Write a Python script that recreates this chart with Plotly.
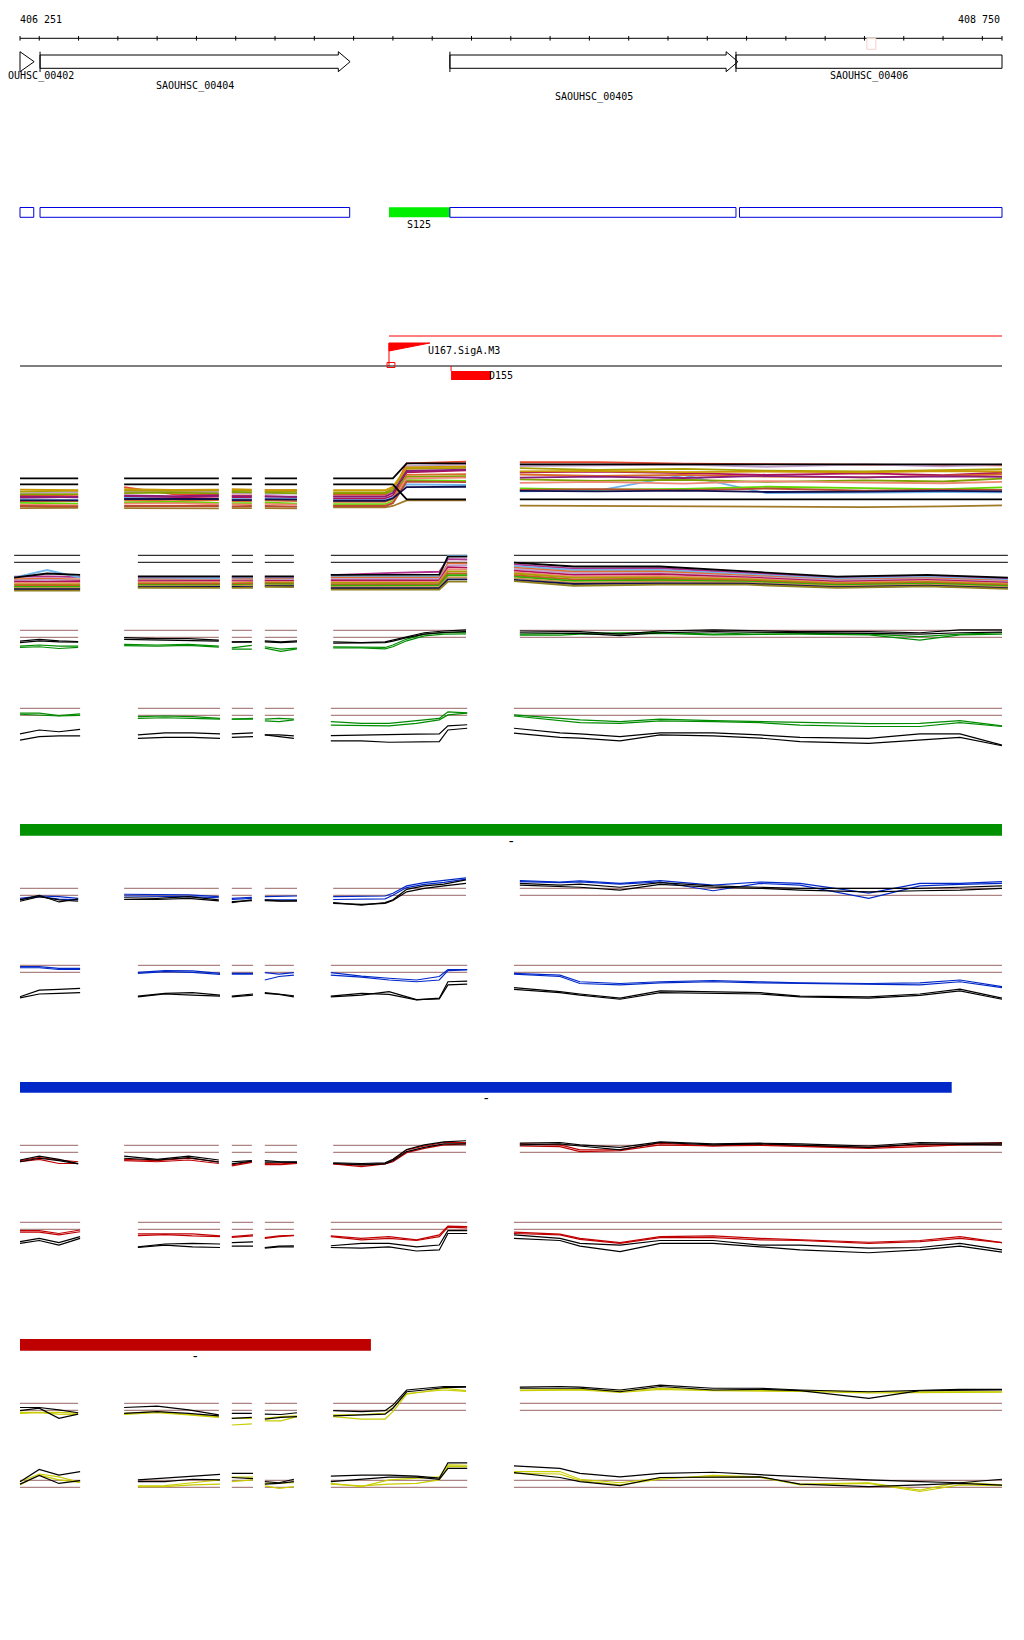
import plotly.graph_objects as go

W, H = 1024, 1640
PAGE_MARGIN = 8  # browser default body margin
FIG_W, FIG_H = W - PAGE_MARGIN, H - PAGE_MARGIN
VIEW_START, VIEW_END = 406251, 408750
PX_START, PX_END = 20, 1002
BP_PER_PX = (VIEW_END - VIEW_START) / (PX_END - PX_START)
X_RANGE = [VIEW_START - (PX_START - PAGE_MARGIN) * BP_PER_PX,
           VIEW_END + (FIG_W - (PX_END - PAGE_MARGIN)) * BP_PER_PX]

# ---------------- data ----------------
RULER_TICKS = [406251] + list(range(406300, 408701, 100)) + [408750]
RULER_LABELS = ["406 251", "408 750"]

GENE_NAMES = ["SAOUHSC_00402", "SAOUHSC_00404", "SAOUHSC_00405", "SAOUHSC_00406"]
GENE_STARTS = [406251, 406302, 407345, 408073]
GENE_ENDS = [406287, 407091, 408078, 408750]
GENE_LABEL_ROW = [0, 1, 2, 0]

FAINT_BOX = [408406, 408429]

REGION_STARTS = [406251, 406302, 407345, 408082]
REGION_ENDS = [406286, 407090, 408073, 408750]
HIGHLIGHT = [407190, 407345]
HIGHLIGHT_LABEL = "S125"

PROMOTER_POS = 407190
PROMOTER_LABEL = "U167.SigA.M3"
PROMOTER_LINE_END = 408750
TERM_START, TERM_END = 407348, 407450
TERM_LABEL = "D155"

BAR_STARTS = [406251, 406251, 406251]
BAR_ENDS = [408750, 408622, 407144]
BAR_LABELS = ["-", "-", "-"]

REF_LEVELS = [1.0, -1.0]

GRID_N = [[406251, 406300, 406350, 406399], [406516, 406600, 406680, 406757], [406790, 406841],
          [406874, 406915, 406956], [407048, 407120, 407180, 407200, 407235, 407280, 407330, 407386],
          [407523, 407625, 407676, 407778, 407880, 408015, 408134, 408236, 408411, 408541, 408643, 408750]]
GRID_W = [[406251, 406300, 406350, 406404], [406551, 406620, 406690, 406760], [406790, 406844],
          [406874, 406910, 406948], [407042, 407120, 407190, 407260, 407318, 407340, 407389],
          [407508, 407625, 407676, 407778, 407880, 408015, 408134, 408236, 408411, 408541, 408643, 408750]]
GRID_A = [[406251, 406399], [406516, 406640, 406757], [406790, 406841], [406874, 406956],
          [407048, 407180, 407200, 407235, 407386],
          [407523, 407720, 407940, 408150, 408400, 408600, 408750]]
GRID_B = [[406236, 406320, 406404], [406551, 406660, 406760], [406790, 406844], [406874, 406948],
          [407042, 407200, 407318, 407340, 407389],
          [407508, 407660, 407880, 408100, 408330, 408560, 408765]]

A_COLORS = ['#e8452c', '#c0a0cc', '#a8a000', '#b0105a', '#70b4ec', '#d86c28', '#80a000', '#60d800',
            '#a07828', '#f08878', '#8c1a78', '#c89800', '#b84c30', '#101050', '#000000', '#000000']
A_VALUES = [
    [[-3.0, -2.8], [-0.6, -2.6, -2.8], [-3.0, -3.0], [-1.5, -1.6], [-2.8, -2.8, -2.0, 6.2, 6.7], [6.5, 6.5, 6.1, 6.0, 5.8, 5.7, 5.6]],
    [[-2.4, -2.0], [-2.0, -2.1, -2.0], [-2.4, -2.4], [-2.6, -2.4], [-3.3, -3.3, -2.0, 5.4, 5.9], [5.4, 5.6, 5.8, 5.2, 5.9, 5.3, 5.8]],
    [[-1.9, -1.6], [-1.6, -1.7, -1.5], [-1.6, -1.7], [-1.9, -1.9], [-2.1, -2.1, -1.0, 4.6, 4.9], [4.8, 4.3, 4.6, 4.1, 3.9, 4.2, 4.5]],
    [[-3.7, -3.4], [-3.4, -3.5, -3.3], [-3.6, -3.6], [-3.2, -3.5], [-3.9, -3.9, -3.0, 3.6, 4.2], [3.6, 3.8, 3.4, 2.9, 3.3, 2.8, 3.5]],
    [[-4.1, -4.3], [-3.7, -3.9, -4.2], [-4.0, -4.1], [-3.8, -3.9], [-4.3, -4.3, -3.5, 0.2, 0.0], [-1.8, -1.6, 2.8, -2.3, -2.2, -2.0, -2.1]],
    [[-4.7, -4.6], [-4.4, -4.6, -4.3], [-4.6, -4.7], [-4.4, -4.6], [-4.8, -4.8, -4.0, 2.9, 3.1], [3.0, 2.6, 2.9, 2.4, 2.2, 2.6, 3.0]],
    [[-2.7, -2.6], [-2.3, -2.2, -2.4], [-2.0, -2.1], [-2.2, -2.4], [-2.4, -2.4, -1.6, 2.3, 2.5], [1.6, 1.2, 1.5, 0.9, 1.3, 1.0, 1.8]],
    [[-5.1, -5.3], [-5.0, -4.8, -5.1], [-5.2, -5.2], [-5.0, -5.3], [-5.5, -5.5, -4.6, 1.4, 1.2], [-1.0, -1.3, -1.1, -0.5, -0.9, -1.2, -0.7]],
    [[-6.6, -6.5], [-6.6, -6.6, -6.7], [-6.6, -6.6], [-6.6, -6.7], [-6.4, -6.4, -6.0, -4.4, -4.4], [-5.9, -6.0, -6.0, -6.3, -6.3, -6.1, -5.8]],
    [[-5.6, -5.8], [-5.3, -5.2, -5.5], [-5.5, -5.6], [-5.4, -5.6], [-5.9, -5.9, -5.0, 1.9, 2.1], [0.6, 0.9, 0.4, 1.1, 0.7, 0.5, 0.9]],
    [[-3.3, -3.5], [-3.0, -3.2, -3.0], [-3.2, -3.2], [-3.3, -3.3], [-3.3, -3.3, -2.3, 4.0, 4.4], [2.1, 2.4, 2.0, 2.6, 2.2, 2.5, 2.3]],
    [[-1.3, -1.5], [-1.2, -1.4, -1.3], [-1.2, -1.3], [-1.5, -1.4], [-1.5, -1.5, -0.5, 5.0, 5.3], [3.9, 4.0, 3.7, 3.8, 3.6, 4.0, 3.8]],
    [[-6.0, -6.1], [-6.0, -6.1, -6.0], [-6.1, -6.0], [-6.0, -6.2], [-6.0, -6.0, -5.2, 1.0, 0.8], [-1.4, -1.2, -1.5, -1.0, -1.6, -1.3, -1.4]],
    [[-4.4, -4.4], [-4.0, -4.1, -4.0], [-4.3, -4.3], [-4.1, -4.2], [-4.5, -4.5, -3.8, -0.6, -0.5], [-1.7, -1.8, -1.6, -2.0, -1.9, -1.7, -1.8]],
    [[1.9, 1.9], [1.9, 1.9, 1.9], [1.9, 1.9], [1.9, 1.9], [1.9, 1.9, 1.9, 6.2, 6.2], [5.9, 5.9, 5.9, 5.9, 5.9, 5.9, 5.9]],
    [[0.2, 0.2], [0.2, 0.2, 0.2], [0.2, 0.2], [0.2, 0.2], [0.2, 0.2, 0.2, -4.1, -4.1], [-4.1, -4.1, -4.1, -4.1, -4.1, -4.1, -4.1]],
]

B_COLORS = ['#b03090', '#70b4ec', '#e07030', '#c0a0cc', '#b0105a', '#f08878', '#a8a000', '#c85a28',
            '#30b000', '#c89850', '#101050', '#908020', '#000000']
B_VALUES = [
    [[-5.1, -5.0, -5.2], [-5.3, -5.3, -5.4], [-5.3, -5.3], [-5.3, -5.3], [-4.7, -4.0, -3.7, -0.1, -0.2], [-1.6, -2.8, -2.7, -4.1, -5.4, -4.9, -5.7]],
    [[-5.4, -3.2, -5.4], [-5.6, -5.6, -5.5], [-5.6, -5.5], [-5.6, -5.6], [-5.0, -5.0, -5.0, 0.8, 0.8], [-2.1, -3.2, -3.2, -4.4, -5.7, -5.2, -6.0]],
    [[-5.8, -5.7, -5.9], [-5.9, -5.9, -6.0], [-5.9, -5.8], [-5.8, -5.8], [-5.4, -5.4, -5.3, -1.3, -1.3], [-2.5, -3.7, -3.6, -4.7, -6.0, -5.5, -6.3]],
    [[-6.2, -6.0, -6.2], [-6.2, -6.1, -6.2], [-6.1, -6.2], [-6.1, -6.0], [-5.8, -5.8, -5.7, -1.9, -1.8], [-2.9, -4.1, -4.0, -5.0, -6.2, -5.8, -6.5]],
    [[-6.5, -6.6, -6.4], [-6.4, -6.4, -6.3], [-6.4, -6.4], [-6.3, -6.3], [-6.2, -6.2, -6.1, -2.4, -2.5], [-3.4, -4.6, -4.4, -5.3, -6.5, -6.0, -6.8]],
    [[-6.9, -6.8, -6.9], [-6.7, -6.6, -6.7], [-6.6, -6.7], [-6.6, -6.6], [-6.6, -6.6, -6.5, -3.0, -3.0], [-3.8, -5.0, -4.9, -5.6, -6.8, -6.3, -7.1]],
    [[-7.3, -7.2, -7.3], [-7.0, -7.0, -7.0], [-7.0, -6.9], [-6.8, -6.8], [-6.9, -6.9, -6.8, -3.6, -3.6], [-4.2, -5.4, -5.3, -5.9, -7.0, -6.6, -7.3]],
    [[-7.6, -7.5, -7.7], [-7.2, -7.3, -7.2], [-7.2, -7.2], [-7.0, -7.1], [-7.3, -7.3, -7.2, -4.2, -4.2], [-4.7, -5.9, -5.7, -6.2, -7.3, -6.8, -7.6]],
    [[-8.0, -7.9, -8.0], [-7.5, -7.5, -7.6], [-7.5, -7.5], [-7.3, -7.3], [-7.7, -7.7, -7.6, -4.7, -4.7], [-5.1, -6.3, -6.1, -6.5, -7.5, -7.1, -7.8]],
    [[-8.4, -8.3, -8.4], [-7.8, -7.8, -7.8], [-7.8, -7.7], [-7.5, -7.6], [-8.1, -8.1, -8.0, -5.3, -5.3], [-5.5, -6.8, -6.5, -6.8, -7.8, -7.4, -8.1]],
    [[-8.7, -8.8, -8.7], [-8.1, -8.1, -8.0], [-8.0, -8.1], [-7.8, -7.8], [-8.4, -8.4, -8.4, -5.9, -5.9], [-6.0, -7.2, -7.0, -7.1, -8.1, -7.7, -8.4]],
    [[-9.1, -9.0, -9.1], [-8.3, -8.4, -8.3], [-8.3, -8.3], [-8.0, -8.1], [-8.8, -8.8, -8.8, -6.5, -6.5], [-6.4, -7.7, -7.4, -7.4, -8.3, -7.9, -8.6]],
    [[-5.4, -4.2, -4.6], [-5.0, -5.0, -5.0], [-5.0, -5.0], [-5.0, -5.0], [-4.6, -4.6, -4.5, 0.6, 0.6], [-1.1, -2.2, -2.2, -3.7, -5.1, -4.6, -5.4]],
]

C_BLACK1 = [[-2.1, -1.6, -2.0, -2.2], [-1.1, -1.4, -1.4, -1.8], [-2.3, -2.2], [-2.0, -2.3, -2.0], [-2.3, -2.5, -2.3, -1.8, -0.8, 0.3, 0.8, 1.1], [0.8, 0.6, 0.6, -0.1, 0.8, 1.1, 0.9, 0.6, 0.6, 0.3, 1.1, 1.1]]
C_BLACK2 = [[-2.5, -2.0, -2.3, -2.4], [-1.6, -1.8, -1.8, -2.1], [-2.4, -2.4], [-2.3, -2.5, -2.3], [-2.7, -2.7, -2.5, -2.1, -1.1, -0.1, 0.4, 0.6], [0.3, 0.3, 0.1, -0.5, 0.3, 0.6, 0.5, 0.3, 0.1, -0.1, 0.3, 0.5]]
C_GREEN1 = [[-3.5, -3.2, -3.5, -3.5], [-3.0, -3.2, -3.0, -3.5], [-4.0, -3.3], [-3.7, -4.4, -4.1], [-3.7, -3.7, -3.9, -3.2, -1.5, -0.1, 0.3, 0.5], [-0.1, 0.1, 0.3, 0.3, 0.4, -0.1, 0.3, 0.1, -0.1, -0.8, -0.1, 0.3]]
C_GREEN2 = [[-3.9, -3.7, -4.2, -3.9], [-3.4, -3.5, -3.3, -3.8], [-4.4, -4.4], [-4.1, -5.0, -4.3], [-4.0, -4.0, -4.3, -3.7, -2.0, -0.6, -0.1, 0.0], [-0.4, -0.4, -0.1, 0.1, 0.1, -0.3, -0.1, -0.1, -0.3, -1.8, -0.3, -0.1]]

D_GREEN1 = [[-0.4, -0.4, -1.1, -0.6], [-1.4, -1.2, -1.4, -1.9], [-2.1, -1.9], [-2.1, -1.9, -2.1], [-2.8, -3.3, -3.3, -2.5, -1.9, 0.0, -0.3], [-0.9, -1.9, -2.3, -2.8, -2.1, -2.5, -2.8, -3.1, -3.4, -3.3, -2.5, -4.0]]
D_GREEN2 = [[-0.7, -0.9, -1.2, -1.0], [-1.9, -1.7, -1.9, -2.1], [-2.1, -2.1], [-2.6, -2.8, -2.3], [-3.8, -4.0, -4.0, -3.3, -2.3, -0.9, -0.4], [-1.2, -2.5, -3.1, -3.3, -2.6, -2.8, -3.1, -3.8, -4.2, -4.2, -3.1, -4.2]]
D_BLACK1 = [[-6.3, -5.2, -5.7, -5.0], [-6.6, -6.0, -6.0, -6.3], [-6.3, -6.0], [-6.6, -6.6, -6.9], [-6.8, -6.6, -6.4, -6.4, -6.3, -4.0, -3.7], [-4.7, -6.0, -6.3, -7.1, -6.0, -6.0, -6.6, -7.3, -7.6, -6.3, -6.3, -9.5]]
D_BLACK2 = [[-8.1, -7.1, -6.9, -6.9], [-7.6, -7.3, -7.3, -7.6], [-7.3, -7.1], [-6.6, -7.1, -7.6], [-8.3, -8.3, -8.7, -8.7, -8.5, -5.2, -4.7], [-6.1, -7.3, -7.5, -8.3, -6.6, -6.9, -7.5, -8.5, -9.0, -8.1, -7.3, -9.7]]

E_BLUE1 = [[-1.9, -1.2, -1.4, -1.9], [-0.7, -0.7, -0.9, -1.4], [-1.9, -1.6], [-1.4, -1.4, -1.2], [-1.4, -1.4, -1.2, -0.4, 1.7, 2.6, 3.2, 4.0], [3.2, 2.8, 3.1, 2.4, 3.2, 1.9, 2.8, 2.4, -0.4, 2.4, 2.4, 2.9]]
E_BLUE2 = [[-2.2, -1.4, -2.1, -2.3], [-1.2, -1.2, -1.4, -1.7], [-2.2, -1.9], [-2.3, -2.3, -2.3], [-2.2, -2.2, -2.0, -1.0, 1.2, 2.1, 2.7, 3.6], [2.9, 2.6, 2.8, 2.2, 2.8, 0.3, 2.4, 1.9, -1.9, 1.7, 2.1, 2.4]]
E_BLACK1 = [[-2.3, -1.0, -2.9, -2.1], [-1.7, -1.9, -1.4, -2.3], [-3.1, -2.3], [-2.3, -2.6, -2.6], [-3.1, -3.8, -3.1, -2.3, 0.7, 1.7, 2.2, 3.4], [2.4, 1.9, 2.2, 1.3, 2.6, 1.7, 1.3, 1.0, 1.0, 1.0, 1.3, 1.7]]
E_BLACK2 = [[-2.7, -1.4, -2.3, -2.7], [-2.2, -2.2, -1.9, -2.6], [-2.8, -2.5], [-2.5, -2.7, -2.6], [-3.3, -3.6, -3.3, -2.5, 0.0, 1.0, 1.7, 2.4], [1.9, 1.5, 1.3, 0.5, 2.1, 1.3, 1.0, 0.5, 0.0, 0.3, 0.5, 1.0]]

F_BLUE1 = [[0.6, 0.6, 0.1, 0.1], [-1.0, -0.5, -0.6, -1.3], [-1.5, -1.5], [-1.1, -1.5, -1.1], [-1.1, -2.1, -2.7, -3.2, -2.2, -0.2, -0.2], [-1.3, -1.8, -3.7, -4.2, -3.7, -3.4, -3.7, -4.0, -4.2, -4.0, -3.2, -5.1]]
F_BLUE2 = [[0.3, 0.3, -0.2, -0.2], [-1.3, -0.8, -1.0, -1.6], [-1.3, -1.3], [-3.2, -2.2, -1.8], [-1.8, -2.4, -3.2, -3.7, -3.2, -0.5, -0.3], [-1.5, -2.2, -4.2, -4.6, -4.0, -3.7, -4.0, -4.2, -4.4, -4.6, -3.7, -5.4]]
F_BLACK1 = [[-8.0, -6.1, -5.9, -5.6], [-7.8, -7.0, -6.8, -7.5], [-7.8, -7.2], [-6.8, -7.3, -7.7], [-7.8, -7.0, -7.3, -8.9, -8.4, -3.7, -3.5], [-5.4, -6.5, -7.2, -8.4, -6.3, -6.6, -6.8, -7.8, -8.0, -7.2, -5.8, -8.4]]
F_BLACK2 = [[-8.3, -7.2, -7.0, -6.8], [-8.0, -7.2, -7.5, -7.8], [-8.0, -7.5], [-7.0, -7.3, -8.0], [-8.0, -7.5, -6.5, -8.8, -8.6, -4.6, -4.4], [-5.9, -6.8, -7.5, -8.7, -6.8, -7.0, -7.2, -8.0, -8.4, -7.6, -6.3, -8.7]]

G_RED1 = [[-3.4, -2.5, -3.2, -3.7], [-3.0, -3.4, -2.7, -3.7], [-4.6, -3.7], [-4.2, -4.3, -4.0], [-4.3, -4.6, -4.2, -3.2, -0.3, 0.8, 1.8, 1.8], [1.4, 1.1, -0.3, -0.2, 1.6, 0.8, 1.4, 0.8, 0.4, 1.1, 1.4, 1.8]]
G_RED2 = [[-3.7, -3.0, -4.2, -4.2], [-3.4, -3.7, -3.2, -4.2], [-4.9, -3.9], [-4.5, -4.5, -4.2], [-4.3, -5.1, -4.3, -3.7, -1.1, 0.1, 1.1, 1.4], [0.8, 0.6, -0.8, -0.5, 1.1, 0.8, 1.0, 0.6, 0.1, 0.6, 1.1, 1.4]]
G_BLACK1 = [[-3.2, -2.1, -3.0, -4.2], [-2.1, -3.0, -2.1, -3.2], [-4.3, -3.5], [-3.4, -3.7, -3.7], [-4.0, -4.2, -4.0, -3.0, -0.2, 1.1, 2.0, 2.3], [1.6, 1.8, 1.1, 0.4, 2.0, 1.4, 1.6, 1.4, 0.8, 1.8, 1.6, 1.6]]
G_BLACK2 = [[-3.7, -2.7, -3.4, -4.3], [-2.7, -3.2, -2.5, -3.8], [-3.7, -3.4], [-3.8, -3.9, -3.9], [-4.2, -4.6, -4.3, -3.4, -0.8, 0.4, 1.4, 1.4], [1.1, 1.4, 0.8, -0.3, 1.8, 1.1, 1.4, 1.1, 0.4, 1.4, 1.3, 1.1]]

H_RED1 = [[-1.4, -1.4, -2.2, -1.2], [-2.3, -2.2, -2.3, -2.9], [-3.1, -2.6], [-3.4, -2.9, -2.7], [-2.9, -3.6, -3.1, -4.0, -2.6, -0.1, -0.2], [-1.8, -2.4, -3.6, -4.8, -3.1, -2.9, -3.6, -4.0, -4.7, -4.2, -3.1, -4.8]]
H_RED2 = [[-1.8, -1.8, -2.6, -1.7], [-2.8, -2.5, -2.9, -3.1], [-3.3, -2.9], [-3.6, -3.1, -2.8], [-3.1, -4.0, -3.6, -4.2, -3.1, -0.4, -0.6], [-2.2, -2.6, -3.9, -5.0, -3.4, -3.4, -4.0, -4.2, -5.0, -4.5, -3.6, -4.8]]
H_BLACK1 = [[-4.5, -3.6, -4.8, -3.1], [-6.0, -5.2, -5.0, -5.2], [-4.8, -4.6], [-6.2, -5.8, -5.7], [-5.7, -5.0, -5.0, -6.0, -5.5, -1.4, -1.4], [-2.6, -3.6, -5.0, -5.5, -4.2, -4.2, -5.5, -5.5, -6.4, -6.2, -5.0, -6.9]]
H_BLACK2 = [[-5.0, -4.2, -5.5, -3.6], [-6.2, -5.5, -6.0, -6.2], [-5.8, -5.8], [-6.4, -6.0, -6.0], [-6.2, -6.4, -6.0, -7.2, -6.9, -2.2, -2.2], [-3.6, -4.2, -5.8, -7.4, -5.0, -5.0, -6.0, -6.9, -7.7, -6.9, -5.8, -7.5]]

I_BLACK1 = [[-0.2, -0.2, -0.9, -1.7], [-0.2, 0.2, -0.9, -2.3], [-1.9, -1.9], [-2.1, -2.2, -1.7], [-1.1, -1.4, -1.1, 0.5, 4.8, 5.3, 5.8, 5.8], [5.6, 5.8, 5.6, 4.8, 6.2, 5.3, 5.3, 4.8, 4.3, 4.8, 5.0, 5.0]]
I_BLACK2 = [[-1.1, -0.4, -3.3, -2.1], [-1.9, -1.4, -1.9, -2.6], [-3.3, -3.0], [-3.5, -3.0, -2.8], [-2.6, -2.3, -2.1, -0.4, 4.3, 4.8, 5.5, 5.6], [5.3, 5.3, 5.3, 4.3, 5.8, 4.8, 5.0, 4.6, 2.4, 4.6, 4.6, 4.8]]
I_YELLOW1 = [[-1.6, -1.5, -1.6, -1.9], [-1.9, -1.4, -2.2, -2.8], [-3.3, -3.3], [-3.3, -2.8, -2.6], [-2.3, -2.2, -1.9, -0.2, 3.8, 4.3, 5.3, 4.6], [4.8, 4.8, 5.0, 4.5, 5.3, 4.8, 4.8, 4.6, 4.3, 4.3, 4.3, 4.3]]
I_YELLOW2 = [[-1.9, -1.7, -2.1, -2.2], [-2.2, -1.7, -2.3, -3.0], [-5.2, -4.9], [-4.0, -4.0, -2.8], [-2.8, -3.5, -3.5, -1.4, 3.6, 4.3, 4.8, 4.4], [4.6, 4.6, 4.8, 4.1, 5.0, 4.6, 4.6, 4.4, 4.0, 4.0, 4.2, 4.2]]

J_BLACK1 = [[0.6, 4.1, 2.5, 3.5], [1.1, 1.6, 2.0, 2.7], [3.0, 3.0], [0.6, 0.3, 1.3], [2.2, 2.5, 2.5, 2.2, 1.6, 6.0, 6.0], [5.1, 4.4, 3.0, 2.0, 3.0, 3.3, 2.6, 2.0, 1.1, 0.6, 0.3, 1.3]]
J_BLACK2 = [[-0.1, 2.4, 0.1, 0.9], [0.6, 0.6, 1.3, 1.1], [1.8, 1.5], [-0.1, 0.1, 0.6], [0.6, 1.3, 1.9, 1.9, 1.3, 4.4, 4.4], [3.2, 1.8, 0.6, -0.5, 1.8, 1.8, 2.0, -0.1, -0.8, -0.3, 0.1, -0.4]]
J_YELLOW1 = [[0.6, 2.8, 2.0, 0.4], [-0.6, -0.5, 0.3, 1.1], [1.9, 1.9], [0.1, 0.3, 0.3], [0.1, -0.8, 1.1, 1.6, 2.0, 5.4, 5.3], [3.5, 3.5, 1.3, 0.3, 1.6, 2.0, 1.8, -0.1, 0.3, -1.8, 0.4, -0.3]]
J_YELLOW2 = [[-0.3, 2.5, 1.1, 0.4], [-0.8, -0.8, -0.3, -0.1], [0.6, 1.1], [-0.6, -1.3, -0.8], [-0.1, -0.6, -0.1, 0.1, 1.1, 4.9, 4.9], [3.0, 2.8, 0.9, -0.3, 1.3, 2.4, 2.0, -0.3, 0.1, -2.2, -0.3, -0.5]]

# ---------------- styles / layout ----------------
FONT = "DejaVu Sans Mono"
BLACK = "#000000"
GREEN = "#008c00"
BLUE = "#0028c8"
RED = "#c00000"
YELLOW = "#c8cc00"
BROWN = "#9a6464"
BAR_COLORS = ["#009000", "#0028c8", "#bf0000"]
BAR_PX = [(824.0, 835.7), (1082.0, 1092.7), (1339.0, 1350.7)]
BAR_LABEL_PX = [841.0, 1098.0, 1356.0]
GENE_LABEL_XSHIFT = [8, 0, 0, 0]
HEAD_BP = 30
FLAG_BP = 104


def py(px):
    """page pixel row -> paper fraction of the figure"""
    return 1 - (px - PAGE_MARGIN) / FIG_H


def dom(top, bottom):
    return [py(bottom), py(top)]


fig = go.Figure()
shapes = []
annotations = []

# ruler
shapes.append(dict(type="line", xref="x", yref="paper", x0=VIEW_START, x1=VIEW_END,
                   y0=py(38.3), y1=py(38.3), line=dict(color=BLACK, width=1)))
for t in RULER_TICKS:
    shapes.append(dict(type="line", xref="x", yref="paper", x0=t, x1=t, y0=py(36.0), y1=py(40.6),
                       line=dict(color=BLACK, width=1)))
annotations.append(dict(x=VIEW_START, y=py(20), xref="x", yref="paper", text=RULER_LABELS[0],
                        showarrow=False, xanchor="left", yanchor="middle", xshift=-2))
annotations.append(dict(x=VIEW_END, y=py(20), xref="x", yref="paper", text=RULER_LABELS[1],
                        showarrow=False, xanchor="right", yanchor="middle", xshift=0))
shapes.append(dict(type="rect", xref="x", yref="paper", x0=FAINT_BOX[0], x1=FAINT_BOX[1],
                   y0=py(38.5), y1=py(49.3), line=dict(color="#f3d2c8", width=1)))

# genes
yt, yb, yht, yhb, ym = py(55.0), py(68.3), py(51.7), py(71.7), py(61.7)
label_y = [76.0, 85.7, 97.3]
for name, s, e, row, xs_ in zip(GENE_NAMES, GENE_STARTS, GENE_ENDS, GENE_LABEL_ROW, GENE_LABEL_XSHIFT):
    if e >= VIEW_END:
        path = f"M {s},{yt} L {e},{yt} L {e},{yb} L {s},{yb} Z"
    elif e - s <= HEAD_BP + 10:
        path = f"M {s},{yht} L {e},{ym} L {s},{yhb} Z"
    else:
        xh = e - HEAD_BP
        path = (f"M {s},{yt} L {xh},{yt} L {xh},{yht} L {e},{ym} L {xh},{yhb} "
                f"L {xh},{yb} L {s},{yb} Z")
    shapes.append(dict(type="path", xref="x", yref="paper", path=path,
                       line=dict(color=BLACK, width=1), fillcolor="rgba(0,0,0,0)"))
    if s > VIEW_START:
        shapes.append(dict(type="line", xref="x", yref="paper", x0=s, x1=s, y0=py(51.7), y1=py(72.0),
                           line=dict(color=BLACK, width=1)))
    annotations.append(dict(x=(s + e) / 2, y=py(label_y[row]), xref="x", yref="paper", text=name,
                            showarrow=False, xanchor="center", yanchor="middle", xshift=xs_))

# region boxes
shapes.append(dict(type="rect", xref="x", yref="paper", x0=HIGHLIGHT[0], x1=HIGHLIGHT[1],
                   y0=py(217.3), y1=py(207.3), line=dict(width=0), fillcolor="#00ee00"))
for s, e in zip(REGION_STARTS, REGION_ENDS):
    shapes.append(dict(type="rect", xref="x", yref="paper", x0=s, x1=e, y0=py(217.3), y1=py(207.5),
                       line=dict(color="#0000e0", width=1), fillcolor="rgba(0,0,0,0)"))
annotations.append(dict(x=(HIGHLIGHT[0] + HIGHLIGHT[1]) / 2, y=py(224.5), xref="x", yref="paper",
                        text=HIGHLIGHT_LABEL, showarrow=False, xanchor="center", yanchor="middle"))

# promoter / terminator
shapes.append(dict(type="line", xref="x", yref="paper", x0=PROMOTER_POS, x1=PROMOTER_LINE_END,
                   y0=py(336.0), y1=py(336.0), line=dict(color="#ff0000", width=1)))
shapes.append(dict(type="path", xref="x", yref="paper",
                   path=f"M {PROMOTER_POS},{py(343.0)} L {PROMOTER_POS + FLAG_BP},{py(343.0)} "
                        f"L {PROMOTER_POS},{py(351.0)} Z",
                   line=dict(color="#ff0000", width=1), fillcolor="#ff0000"))
shapes.append(dict(type="line", xref="x", yref="paper", x0=PROMOTER_POS, x1=PROMOTER_POS,
                   y0=py(343.0), y1=py(366.0), line=dict(color="#ff0000", width=1)))
shapes.append(dict(type="line", xref="x", yref="paper", x0=VIEW_START, x1=VIEW_END,
                   y0=py(366.0), y1=py(366.0), line=dict(color=BLACK, width=1)))
shapes.append(dict(type="rect", xref="x", yref="paper", x0=PROMOTER_POS - 5, x1=PROMOTER_POS + 15,
                   y0=py(367.5), y1=py(362.5), line=dict(color="#ff0000", width=1),
                   fillcolor="rgba(0,0,0,0)"))
annotations.append(dict(x=PROMOTER_POS + FLAG_BP, y=py(350.3), xref="x", yref="paper",
                        text=PROMOTER_LABEL, showarrow=False, xanchor="left", yanchor="middle", xshift=-4))
shapes.append(dict(type="rect", xref="x", yref="paper", x0=TERM_START, x1=TERM_END,
                   y0=py(380.0), y1=py(371.0), line=dict(width=0), fillcolor="#ff0000"))
shapes.append(dict(type="line", xref="x", yref="paper", x0=TERM_START, x1=TERM_START,
                   y0=py(366.0), y1=py(371.0), line=dict(color="#ff0000", width=1)))
annotations.append(dict(x=TERM_END, y=py(376.0), xref="x", yref="paper", text=TERM_LABEL,
                        showarrow=False, xanchor="left", yanchor="middle", xshift=-4))

# coloured bars
for s, e, col, (t, b), ly, lab in zip(BAR_STARTS, BAR_ENDS, BAR_COLORS, BAR_PX, BAR_LABEL_PX, BAR_LABELS):
    shapes.append(dict(type="rect", xref="x", yref="paper", x0=s, x1=e, y0=py(b), y1=py(t),
                       line=dict(width=0), fillcolor=col))
    annotations.append(dict(x=(s + e) / 2, y=py(ly), xref="x", yref="paper", text=lab,
                            showarrow=False, xanchor="center", yanchor="middle",
                            font=dict(size=14, family=FONT, color=BLACK)))


# ---------------- tracks ----------------
def flat(grid, cols):
    xs, ys = [], []
    for gx, gy in zip(grid, cols):
        assert len(gx) == len(gy)
        xs += list(gx) + [None]
        ys += list(gy) + [None]
    return xs, ys


TRACKS = [
    (485.0, GRID_A, A_VALUES, A_COLORS, None, 1.8),
    (558.8, GRID_B, B_VALUES, B_COLORS, BLACK, 1.8),
    (633.8, GRID_N, [C_GREEN1, C_GREEN2, C_BLACK1, C_BLACK2], [GREEN, GREEN, BLACK, BLACK], BROWN, 1.2),
    (711.8, GRID_W, [D_GREEN1, D_GREEN2, D_BLACK1, D_BLACK2], [GREEN, GREEN, BLACK, BLACK], BROWN, 1.2),
    (891.8, GRID_N, [E_BLUE1, E_BLUE2, E_BLACK1, E_BLACK2], [BLUE, BLUE, BLACK, BLACK], BROWN, 1.2),
    (968.8, GRID_W, [F_BLUE1, F_BLUE2, F_BLACK1, F_BLACK2], [BLUE, BLUE, BLACK, BLACK], BROWN, 1.2),
    (1148.8, GRID_N, [G_RED1, G_RED2, G_BLACK1, G_BLACK2], [RED, RED, BLACK, BLACK], BROWN, 1.2),
    (1225.8, GRID_W, [H_RED1, H_RED2, H_BLACK1, H_BLACK2], [RED, RED, BLACK, BLACK], BROWN, 1.2),
    (1406.8, GRID_N, [I_YELLOW1, I_YELLOW2, I_BLACK1, I_BLACK2], [YELLOW, YELLOW, BLACK, BLACK], BROWN, 1.2),
    (1483.8, GRID_W, [J_YELLOW1, J_YELLOW2, J_BLACK1, J_BLACK2], [YELLOW, YELLOW, BLACK, BLACK], BROWN, 1.2),
]

layout_axes = {}
for i, (center, grid, series, colors, refcol, lw) in enumerate(TRACKS):
    ax = "y" if i == 0 else f"y{i + 1}"
    key = "yaxis" if i == 0 else f"yaxis{i + 1}"
    layout_axes[key] = dict(domain=dom(center - 42, center + 42), range=[-12, 12], visible=False,
                            anchor="x", fixedrange=True)
    if refcol is not None:
        rx, ry = [], []
        for lvl in REF_LEVELS:
            for gx in grid:
                rx += [gx[0], gx[-1], None]
                ry += [lvl, lvl, None]
        fig.add_trace(go.Scatter(x=rx, y=ry, mode="lines", line=dict(color=refcol, width=1),
                                 yaxis=ax, hoverinfo="skip", showlegend=False))
    for vals, col in zip(series, colors):
        xs, ys = flat(grid, vals)
        fig.add_trace(go.Scatter(x=xs, y=ys, mode="lines", line=dict(color=col, width=lw),
                                 yaxis=ax, hoverinfo="skip", showlegend=False, connectgaps=False))

fig.update_layout(
    width=FIG_W, height=FIG_H, margin=dict(l=0, r=0, t=0, b=0),
    paper_bgcolor="white", plot_bgcolor="white", showlegend=False,
    font=dict(family=FONT, size=10, color=BLACK),
    xaxis=dict(range=X_RANGE, visible=False, fixedrange=True, domain=[0, 1]),
    shapes=shapes, annotations=annotations,
    **layout_axes,
)

fig.write_html("out.html")
